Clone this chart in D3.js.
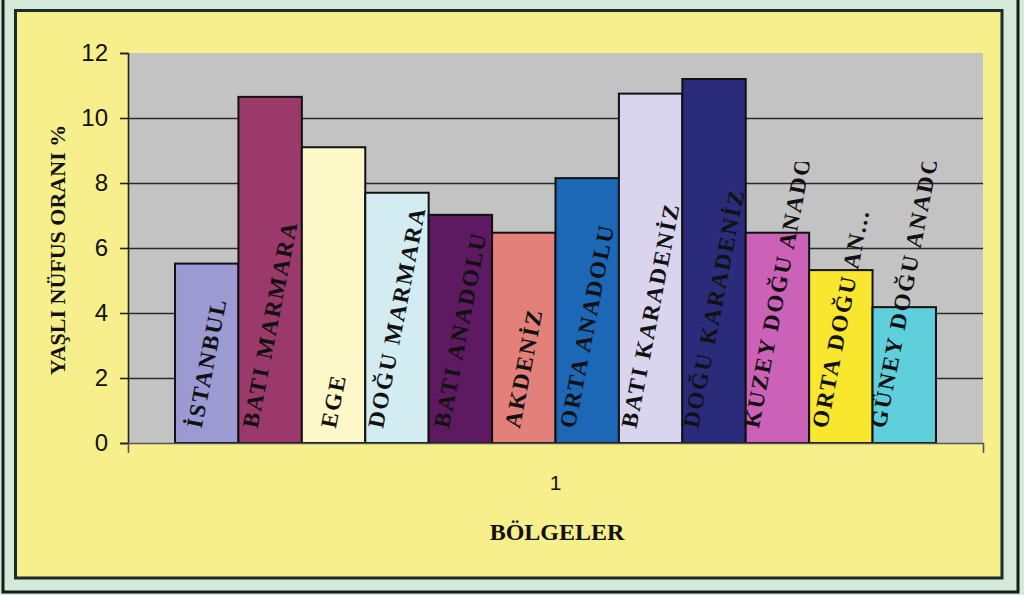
<!DOCTYPE html>
<html><head><meta charset="utf-8">
<script src="https://cdn.jsdelivr.net/npm/d3@7"></script>
<style>html,body{margin:0;padding:0;background:#d4e9d7;overflow:hidden}</style>
</head><body>
<svg id="c" width="1024" height="595"></svg>
<script>
const categories = ["1"];
const regions = ["İSTANBUL","BATI MARMARA","EGE","DOĞU MARMARA","BATI ANADOLU","AKDENİZ","ORTA ANADOLU","BATI KARADENİZ","DOĞU KARADENİZ","KUZEY DOĞU ANADOLU","ORTA DOĞU ANADOLU","GÜNEY DOĞU ANADOLU"];
const labels = ["İSTANBUL","BATI MARMARA","EGE","DOĞU MARMARA","BATI ANADOLU","AKDENİZ","ORTA ANADOLU","BATI KARADENİZ","DOĞU KARADENİZ","KUZEY DOĞU ANADOLU","ORTA DOĞU AN...","GÜNEY DOĞU ANADOLU"];
const values = [5.52, 10.65, 9.1, 7.7, 7.02, 6.47, 8.15, 10.75, 11.2, 6.47, 5.32, 4.18];
const colors = ["#9c9ad2","#9b3a6a","#fdf8c8","#d2ecf2","#5e1a60","#e4807a","#1c67b6","#d9d5ee","#2b2b7c","#cc62b8","#f8e72e","#5fcfdc"];
const yTicks = [0,2,4,6,8,10,12];
const yTitle = "YAŞLI NÜFUS ORANI %";
const xTitle = "BÖLGELER";

const svg = d3.select("#c");
const plot = {x0:128, x1:983, y0:53, y1:443};

// frames
svg.append("rect").attr("x",3).attr("y",-10).attr("width",1015).attr("height",602)
  .attr("fill","#d4e9d7").attr("stroke","#151c1c").attr("stroke-width",3);
svg.append("rect").attr("x",15.5).attr("y",10.5).attr("width",986.5).attr("height",567.5)
  .attr("fill","#f7ef8c").attr("stroke","#1b2a2a").attr("stroke-width",3);

const y = d3.scaleLinear().domain([0,12]).range([plot.y1, plot.y0]);
const xOuter = d3.scaleBand().domain(categories).range([plot.x0, plot.x1]).paddingInner(0).paddingOuter(0.0618);
const xInner = d3.scaleBand().domain(regions).range([xOuter("1"), xOuter("1")+xOuter.bandwidth()]).padding(0);

// plot area
svg.append("rect").attr("x",plot.x0).attr("y",plot.y0).attr("width",plot.x1-plot.x0).attr("height",plot.y1-plot.y0)
  .attr("fill","#c3c3c3");

// gridlines
svg.append("g").selectAll("line").data(yTicks.filter(t=>t>0 && t<12)).join("line")
  .attr("x1",plot.x0).attr("x2",plot.x1)
  .attr("y1",d=>Math.round(y(d))+0.5).attr("y2",d=>Math.round(y(d))+0.5)
  .attr("stroke","#2a2a2a").attr("stroke-width",1.6);

// clip for labels
svg.append("defs").append("clipPath").attr("id","lblclip")
  .append("rect").attr("x",plot.x0).attr("y",162).attr("width",plot.x1-plot.x0).attr("height",300);

const ang = 79*Math.PI/180;
const fs = 23;
const cap = fs*0.66;
regions.forEach((r,i)=>{
  const g = svg.append("g");
  g.append("rect").attr("x",xInner(r)).attr("y",y(values[i]))
    .attr("width",xInner.bandwidth()).attr("height",y(0)-y(values[i]))
    .attr("fill",colors[i]).attr("stroke","#111").attr("stroke-width",2);
  const lg = g.append("g").attr("clip-path","url(#lblclip)");
  const t = lg.append("text").text(labels[i])
    .attr("font-family","'Liberation Serif','Times New Roman',serif")
    .attr("font-weight","bold").attr("font-size",fs)
    .style("letter-spacing","2px").attr("fill","#111");
  const L = Math.min(t.node().getComputedTextLength(), 275);
  const cx = xInner(r) + xInner.bandwidth()/2;
  const px = cx - Math.cos(ang)*L/2 + Math.sin(ang)*cap/2;
  const py = y(0) - 14;
  t.attr("transform",`translate(${px},${py}) rotate(-79)`);
});

// y axis
const yAxis = svg.append("g").attr("transform",`translate(${plot.x0},0)`)
  .call(d3.axisLeft(y).tickValues(yTicks).tickSize(8).tickPadding(12).tickFormat(d3.format("d")));
yAxis.select(".domain").attr("stroke","#222").attr("stroke-width",1.6);
yAxis.selectAll(".tick line").attr("stroke","#222").attr("stroke-width",1.6);
yAxis.selectAll("text").attr("font-family","'Liberation Sans',Arial,sans-serif").attr("font-size",24).attr("fill","#111");

// x axis
const xAxis = svg.append("g").attr("transform",`translate(0,${plot.y1})`)
  .call(d3.axisBottom(xOuter).tickSizeInner(0).tickSizeOuter(10).tickPadding(32));
xAxis.select(".domain").attr("stroke","#555").attr("stroke-width",1.6);
xAxis.selectAll("text").attr("font-family","'Liberation Sans',Arial,sans-serif").attr("font-size",21).attr("fill","#111");

// titles
svg.append("text").text(yTitle)
  .attr("transform","translate(65,250) rotate(-90)").attr("text-anchor","middle")
  .attr("font-family","'Liberation Serif','Times New Roman',serif").attr("font-weight","bold")
  .attr("font-size",22).attr("fill","#111");
svg.append("text").text(xTitle)
  .attr("x",557).attr("y",540).attr("text-anchor","middle")
  .attr("font-family","'Liberation Serif','Times New Roman',serif").attr("font-weight","bold")
  .attr("font-size",24).attr("fill","#111");
</script>
</body></html>
